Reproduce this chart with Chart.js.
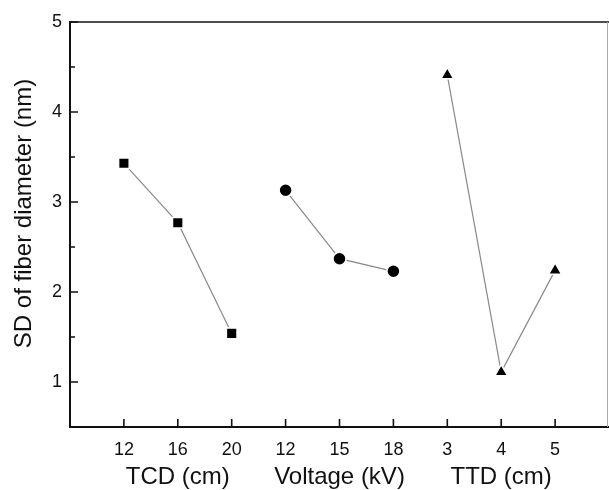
<!DOCTYPE html>
<html>
<head>
<meta charset="utf-8">
<script src="https://cdn.jsdelivr.net/npm/chart.js@4"></script>
<style>
  html, body { margin: 0; padding: 0; background: #fff; }
  #wrap { width: 609px; height: 490px; }
</style>
</head>
<body>
<div id="wrap"><canvas id="sdChart"></canvas></div>
<script>
// categories along x (three factor groups)
const categories = ['12', '16', '20', '12', '15', '18', '3', '4', '5'];
const groupLabels = ['TCD (cm)', 'Voltage (kV)', 'TTD (cm)'];
const tcdSD = [3.43, 2.77, 1.54];
const voltageSD = [3.13, 2.37, 2.23];
const ttdSD = [4.41, 1.11, 2.24];
const yTicks = [1, 2, 3, 4, 5];

const FONT = '"Liberation Sans", Arial, sans-serif';

function pts(offset, vals) {
  return vals.map((v, i) => ({ x: offset + i + 1, y: v }));
}

function series(data, style, radius) {
  return {
    data: data,
    showLine: true,
    borderColor: '#8a8a8a',
    borderWidth: 1.2,
    pointStyle: style,
    pointRadius: radius,
    pointHoverRadius: radius,
    pointBackgroundColor: '#000',
    pointBorderColor: '#fff',
    pointBorderWidth: 1.5
  };
}

// frame, inward ticks and group captions
const decor = {
  id: 'decor',
  afterDraw(chart) {
    const { ctx, chartArea: a, scales: { x, y } } = chart;
    ctx.save();
    ctx.strokeStyle = '#111';
    ctx.lineWidth = 1.6;
    ctx.beginPath();
    ctx.moveTo(a.left, a.top);
    ctx.lineTo(a.right, a.top);
    ctx.stroke();
    ctx.strokeStyle = '#aaa';
    ctx.lineWidth = 1;
    ctx.beginPath();
    ctx.moveTo(a.right - 1.5, a.top);
    ctx.lineTo(a.right - 1.5, a.bottom);
    ctx.stroke();

    ctx.strokeStyle = '#111';
    ctx.lineWidth = 1.6;
    ctx.beginPath();
    for (let v = 1; v <= 5; v += 0.5) {
      const py = y.getPixelForValue(v);
      const len = Number.isInteger(v) ? 8 : 5;
      ctx.moveTo(a.left, py);
      ctx.lineTo(a.left + len, py);
    }
    categories.forEach((c, i) => {
      const px = x.getPixelForValue(i + 1);
      ctx.moveTo(px, a.bottom);
      ctx.lineTo(px, a.bottom - 8);
    });
    ctx.stroke();

    ctx.fillStyle = '#111';
    ctx.font = '24px ' + FONT;
    ctx.textAlign = 'center';
    ctx.textBaseline = 'middle';
    groupLabels.forEach((g, i) => {
      ctx.fillText(g, x.getPixelForValue(i * 3 + 2), 477);
    });

    ctx.translate(24, (a.top + a.bottom) / 2 - 11);
    ctx.rotate(-Math.PI / 2);
    ctx.fillText('SD of fiber diameter (nm)', 0, 0);
    ctx.restore();
  }
};

new Chart(document.getElementById('sdChart'), {
  type: 'scatter',
  data: {
    datasets: [
      series(pts(0, tcdSD), 'rect', 7.5),
      series(pts(3, voltageSD), 'circle', 6.5),
      series(pts(6, ttdSD), 'triangle', 7.5)
    ]
  },
  options: {
    responsive: true,
    maintainAspectRatio: false,
    animation: false,
    layout: { autoPadding: false, padding: { top: 22, right: 0, left: 0, bottom: 0 } },
    plugins: {
      legend: { display: false },
      tooltip: { enabled: false }
    },
    scales: {
      x: {
        type: 'linear',
        min: 0,
        max: 10,
        afterFit: (s) => { s.height = 63; s.paddingRight = 0; s.paddingLeft = 0; },
        afterBuildTicks: (s) => { s.ticks = categories.map((c, i) => ({ value: i + 1 })); },
        grid: { display: false, drawTicks: false },
        border: { display: true, color: '#111', width: 2 },
        ticks: {
          autoSkip: false,
          maxRotation: 0,
          padding: 12,
          color: '#111',
          font: { family: FONT, size: 18 },
          callback: (v) => categories[v - 1] || ''
        }
      },
      y: {
        min: 0.5,
        max: 5,
        afterFit: (s) => { s.width = 70; },
        afterBuildTicks: (s) => { s.ticks = yTicks.map(v => ({ value: v })); },
        grid: { display: false, drawTicks: false },
        border: { display: true, color: '#111', width: 2 },
        ticks: {
          padding: 8,
          color: '#111',
          font: { family: FONT, size: 18 }
        }
      }
    }
  },
  plugins: [decor]
});
</script>
</body>
</html>
